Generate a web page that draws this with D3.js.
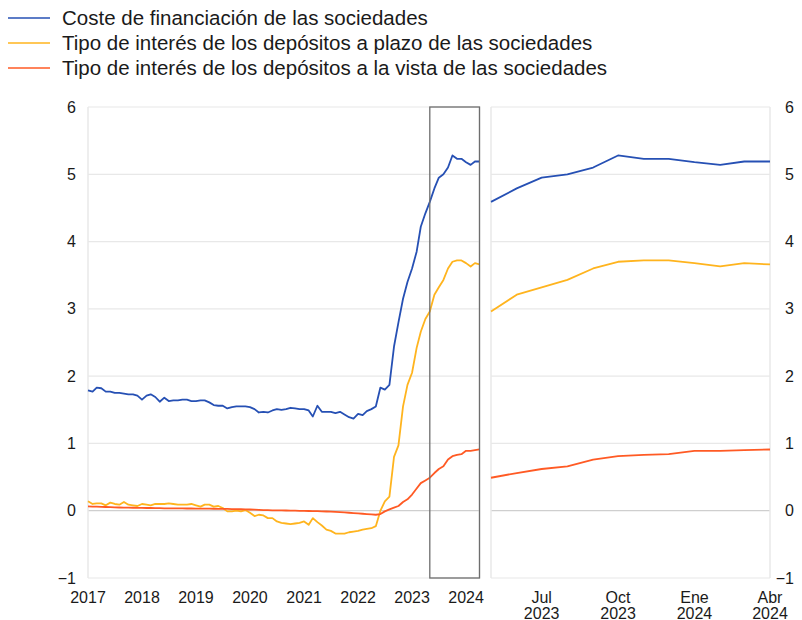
<!DOCTYPE html>
<html><head><meta charset="utf-8">
<script src="https://cdn.jsdelivr.net/npm/d3@7"></script>
<style>
body{margin:0;background:#fff;}
svg{display:block;font-family:"Liberation Sans",Arial,sans-serif;}
</style></head>
<body><svg id="chart" width="802" height="620"></svg>
<script>
// ---- DATA (monthly, Jan 2017 – Apr 2024) ----
const startMonth = "2017-01";
const seriesNames = [
  "Coste de financiación de las sociedades",
  "Tipo de interés de los depósitos a plazo de las sociedades",
  "Tipo de interés de los depósitos a la vista de las sociedades"
];
const coste = [
  1.79,1.77,1.83,1.82,1.77,1.77,1.75,1.75,1.74,1.73,1.73,1.71,
  1.65,1.71,1.73,1.69,1.62,1.68,1.63,1.64,1.64,1.65,1.65,1.63,
  1.63,1.64,1.64,1.61,1.57,1.56,1.56,1.52,1.54,1.55,1.55,1.55,
  1.54,1.51,1.46,1.47,1.46,1.49,1.51,1.50,1.51,1.53,1.52,1.51,
  1.51,1.49,1.40,1.56,1.47,1.47,1.47,1.45,1.47,1.43,1.39,1.37,
  1.44,1.42,1.48,1.51,1.55,1.83,1.80,1.87,2.44,2.80,3.15,3.40,
  3.60,3.85,4.22,4.42,4.59,4.79,4.95,5.00,5.10,5.28,5.23,5.23,
  5.18,5.14,5.19,5.19
];
const plazo = [
  0.14,0.10,0.11,0.11,0.08,0.12,0.10,0.09,0.13,0.09,0.08,0.07,
  0.10,0.09,0.08,0.10,0.10,0.10,0.11,0.10,0.09,0.09,0.09,0.10,
  0.08,0.06,0.09,0.09,0.06,0.07,0.04,-0.01,-0.01,0.00,-0.01,0.01,
  -0.03,-0.08,-0.06,-0.07,-0.11,-0.11,-0.16,-0.18,-0.19,-0.20,-0.19,-0.18,
  -0.16,-0.21,-0.11,-0.17,-0.22,-0.28,-0.30,-0.34,-0.34,-0.34,-0.32,-0.31,
  -0.30,-0.28,-0.27,-0.26,-0.23,0.00,0.14,0.21,0.80,0.97,1.55,1.87,
  2.05,2.42,2.66,2.85,2.96,3.21,3.32,3.43,3.60,3.70,3.72,3.72,
  3.68,3.63,3.68,3.66
];
const vista = [
  0.065,0.062,0.060,0.058,0.055,0.053,0.050,0.048,0.046,0.045,0.044,0.043,
  0.042,0.040,0.040,0.038,0.037,0.036,0.036,0.035,0.035,0.034,0.033,0.033,
  0.032,0.031,0.030,0.030,0.029,0.028,0.027,0.026,0.025,0.024,0.022,0.020,
  0.018,0.015,0.012,0.010,0.008,0.006,0.005,0.004,0.003,0.002,0.000,-0.001,
  -0.002,-0.004,-0.005,-0.007,-0.010,-0.012,-0.015,-0.018,-0.022,-0.025,-0.030,-0.035,
  -0.040,-0.045,-0.050,-0.055,-0.060,-0.050,-0.010,0.020,0.045,0.070,0.130,0.170,
  0.240,0.330,0.410,0.450,0.490,0.560,0.620,0.660,0.760,0.810,0.830,0.840,
  0.890,0.890,0.900,0.910
];
const yTicks = [-1,0,1,2,3,4,5,6];
const yearTicks = ["2017","2018","2019","2020","2021","2022","2023","2024"];
const zoomStart = "2023-05";
const zoomEnd = "2024-04";
const zoomTicks = ["2023-07","2023-10","2024-01","2024-04"];
const zoomTickLabels = [["Jul","2023"],["Oct","2023"],["Ene","2024"],["Abr","2024"]];
const colors = ["#2650b4","#ffb41e","#ff5a24"];

// ---- CHART ----
const svg = d3.select("#chart");
const parseM = d3.timeParse("%Y-%m");
const dates = d3.timeMonth.range(parseM(startMonth), d3.timeMonth.offset(parseM(startMonth), coste.length));
const series = [coste, plazo, vista].map(vals => vals.map((v,i)=>({d:dates[i], v})));

const plotTop = 107, plotBottom = 578;
const y = d3.scaleLinear().domain([-1,6]).range([plotBottom, plotTop]);
const xL = d3.scaleTime().domain([dates[0], dates[dates.length-1]]).range([88, 479.5]);
const xR = d3.scaleTime().domain([parseM(zoomStart), parseM(zoomEnd)]).range([491, 770]);

const gridC = "#e8e8e8";

function panel(x, x0, x1, data) {
  const g = svg.append("g");
  g.selectAll("line.grid").data(yTicks).join("line")
    .attr("x1", x0).attr("x2", x1)
    .attr("y1", d=>y(d)).attr("y2", d=>y(d))
    .attr("stroke", d=> d===0 ? "#cfcfcf" : gridC).attr("stroke-width", 1.2);
  g.append("line").attr("x1",x0).attr("x2",x0).attr("y1",plotTop).attr("y2",plotBottom).attr("stroke",gridC).attr("stroke-width",1.5);
  g.append("line").attr("x1",x1).attr("x2",x1).attr("y1",plotTop).attr("y2",plotBottom).attr("stroke",gridC).attr("stroke-width",1.5);
  const line = d3.line().x(d=>x(d.d)).y(d=>y(d.v));
  data.forEach((s,k)=>{
    g.append("path").datum(s).attr("d", line).attr("fill","none")
      .attr("stroke", colors[k]).attr("stroke-width", 1.8).attr("stroke-linejoin","round");
  });
  return g;
}

panel(xL, 88, 479.5, series);
const zs = parseM(zoomStart), ze = parseM(zoomEnd);
panel(xR, 491, 770, series.map(s => s.filter(p => p.d >= zs && p.d <= ze)));

// highlight box
svg.append("rect")
  .attr("x", xL(zs)).attr("y", plotTop)
  .attr("width", xL(ze) - xL(zs)).attr("height", plotBottom - plotTop)
  .attr("fill","none").attr("stroke","#6e6e6e").attr("stroke-width",1.3);

// y axis labels
const fmt = d => d < 0 ? "\u2212" + Math.abs(d) : String(d);
svg.append("g").selectAll("text").data(yTicks).join("text")
  .attr("x", 76).attr("y", d=>y(d)).attr("dy","0.35em")
  .attr("text-anchor","end").attr("font-size",16).attr("fill","#1a1a1a").text(fmt);
svg.append("g").selectAll("text").data(yTicks).join("text")
  .attr("x", 794).attr("y", d=>y(d)).attr("dy","0.35em")
  .attr("text-anchor","end").attr("font-size",16).attr("fill","#1a1a1a").text(fmt);

// x axis labels left
svg.append("g").selectAll("text").data(yearTicks).join("text")
  .attr("x", d=>xL(parseM(d+"-01"))).attr("y", 603)
  .attr("text-anchor","middle").attr("font-size",16).attr("fill","#1a1a1a").text(d=>d);

// x axis labels right
const rt = svg.append("g").selectAll("text").data(zoomTicks).join("text")
  .attr("x", d=>xR(parseM(d))).attr("y", 603)
  .attr("text-anchor","middle").attr("font-size",16).attr("fill","#1a1a1a");
rt.append("tspan").text((d,i)=>zoomTickLabels[i][0]);
rt.append("tspan").attr("x", d=>xR(parseM(d))).attr("dy", 15.5).text((d,i)=>zoomTickLabels[i][1]);

// legend
const lg = svg.append("g").selectAll("g").data(seriesNames).join("g")
  .attr("transform",(d,i)=>`translate(0,${18 + i*25})`);
lg.append("line").attr("x1",8).attr("x2",50).attr("y1",0).attr("y2",0)
  .attr("stroke",(d,i)=>colors[i]).attr("stroke-width",1.6);
lg.append("text").attr("x",62).attr("y",0).attr("dy","0.35em")
  .attr("font-size",20.5).attr("fill","#1a1a1a").text(d=>d);
</script>
</body></html>
